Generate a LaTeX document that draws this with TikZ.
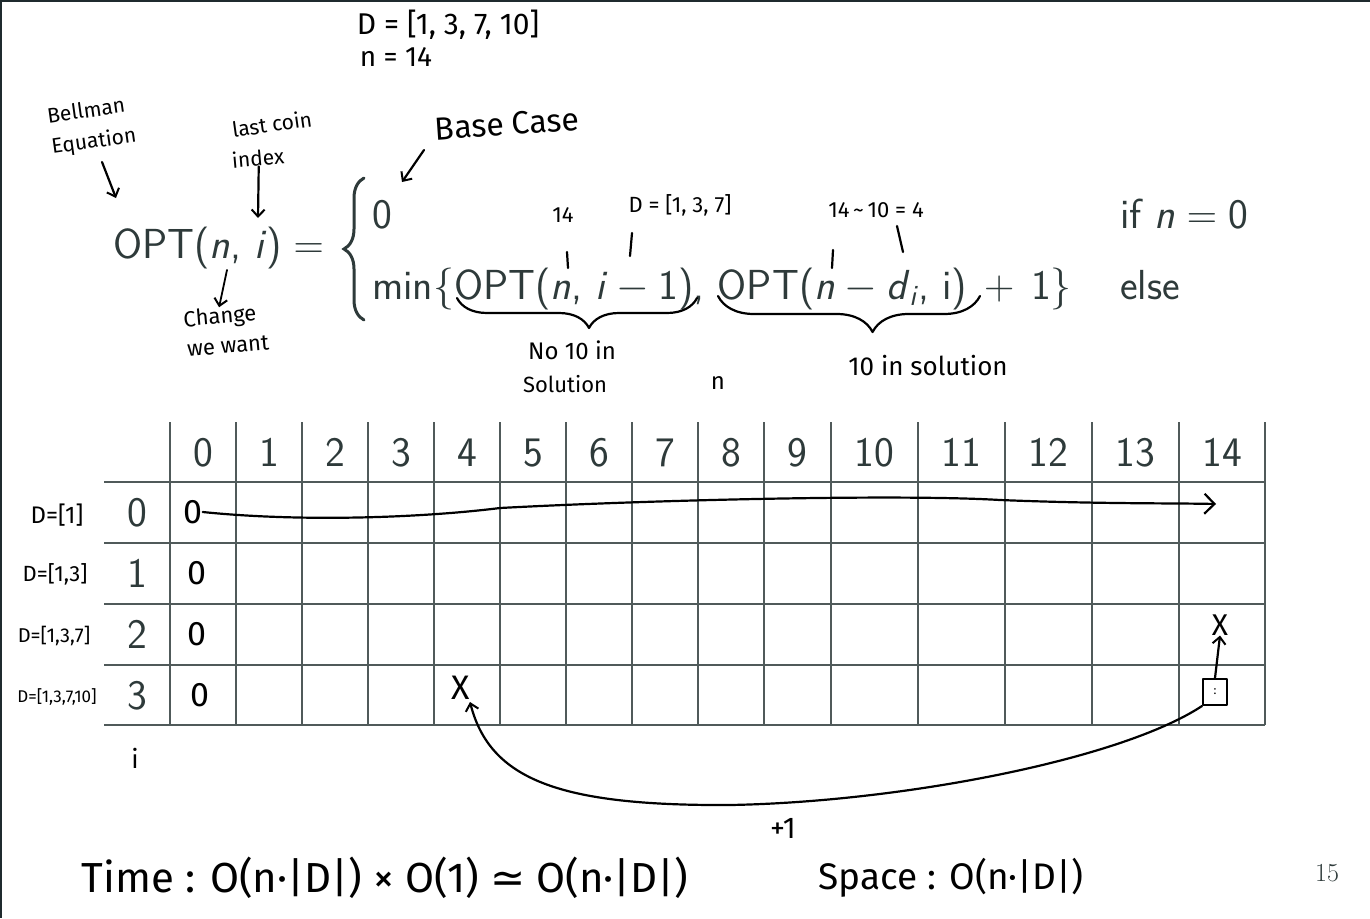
\documentclass[tikz,border=0pt]{standalone}
\usepackage{fix-cm}
\usepackage{fontspec}
\newfontfamily\hand{Fira Sans}
\newfontfamily\dv{DejaVu Sans}
\usetikzlibrary{arrows.meta,decorations.pathreplacing}
\definecolor{slide}{HTML}{2E3A3A}
\definecolor{gridc}{HTML}{505A5A}
\definecolor{framec}{HTML}{1F2A2E}
\newcommand{\fs}[1]{\fontsize{#1}{#1}\selectfont}
\newcommand{\bop}[1]{\hspace{.22em}$#1$\hspace{.22em}}
\newcommand{\rel}[1]{\hspace{.28em}$#1$\hspace{.28em}}
\begin{document}
\begin{tikzpicture}[x=1pt,y=-1pt,
  slidetxt/.style={text=slide,font=\sffamily\fs{42},inner sep=0pt},
  hw/.style={text=black,font=\hand\fs{#1},inner sep=0pt},
  hw/.default=24,
  ink/.style={draw=black,line width=2.2pt,line cap=round,line join=round},
  barb/.style={-{Straight Barb[length=7pt,width=13pt,line width=2pt]}},
  bigbarb/.style={-{Straight Barb[length=10pt,width=20pt,line width=2.2pt]}},
  gridline/.style={draw=gridc,line width=1.6pt},
  hbrace/.style={ink,decorate,decoration={brace,mirror,amplitude=#1}}
]
\useasboundingbox (0,0) rectangle (1370,918);
\fill[white] (0,0) rectangle (1370,918);
\draw[framec,line width=3pt] (0,918) -- (0,0) -- (1370,0);

% ---------- slide equation ----------
\node[slidetxt,anchor=base west] (lhs) at (113,258) {OPT(\textit{n}, \textit{i})\hspace{.28em}$=$};
\draw[slide,line width=3pt,line cap=round,decorate,decoration={brace,amplitude=20pt,aspect=0.5}] (364,320) -- (364,178);
\node[slidetxt,anchor=base west] (zero) at (372,228) {0};
\node[slidetxt,anchor=base west] (rec) at (372,299) {min\{OPT(\textit{n}, \textit{i}\bop{-}1), OPT(\textit{n}\bop{-}\textit{d}\textsubscript{\textit{i}}, i)\hspace{.4em}$+$\hspace{.4em}1\}};
\node[slidetxt,anchor=base west] (cond1) at (1120,228) {if \textit{n}\rel{=}0};
\node[slidetxt,anchor=base west] (cond2) at (1120,299) {else};

% ---------- table ----------
\foreach \x in {170,236,302,368,434,500,566,632,698,764,831,918,1005,1092,1179,1265}
  \draw[gridline] (\x,422) -- (\x,725);
\foreach \y in {482,543,604,665,725}
  \draw[gridline] (104,\y) -- (1265,\y);
\foreach \cx/\lab in {203/0,269/1,335/2,401/3,467/4,533/5,599/6,665/7,731/8,797.5/9,874.5/10,961.5/11,1048.5/12,1135.5/13,1222/14}
  \node[slidetxt,anchor=base] (col\lab) at (\cx,466) {\lab};
\foreach \cy/\lab in {512/0,573/1,634/2,695/3}
  \node[slidetxt,anchor=base] (row\lab) at (137,\cy+14) {\lab};
\node[text=slide,font=\rmfamily\fs{26},inner sep=0pt] (page) at (1327,873) {15};

% ---------- handwriting: top ----------
\node[hw=30] (Dset) at (448,25) {D = [1, 3, 7, 10]};
\node[hw=28] (nval) at (396,57) {n = 14};
\node[hw=21,rotate=8] (bell1) at (86,110) {Bellman};
\node[hw=21,rotate=8] (bell2) at (94,142) {Equation};
\coordinate (bellS) at (102,162);
\coordinate (bellTip) at (116,198);
\draw[ink,barb] (bellS) -- (bellTip);
\node[hw=21,rotate=8] (last1) at (272,124) {last coin};
\node[hw=21,rotate=5] (last2) at (258,158) {index};
\coordinate (lastTip) at (258,218);
\draw[ink,barb] (last2.south) -- (lastTip);
\node[hw=32,rotate=4] (base) at (507,124) {Base Case};
\coordinate (baseS) at (424,150);
\coordinate (baseTip) at (402,182);
\draw[ink,barb] (baseS) -- (baseTip);
\coordinate (chgTop) at (227,270);
\node[hw=22,rotate=5] (chg1) at (220,318) {Change};
\node[hw=22,rotate=5] (chg2) at (228,346) {we want};
\draw[ink,barb,line width=1.8pt] (chgTop) -- (chg1.north);

% small annotations above second line
\node[hw=22] (a14) at (563,215) {14};
\draw[ink] (567,252) -- (568,268);
\node[hw=22] (aD) at (680,205) {D = [1, 3, 7]};
\draw[ink] (632,233) -- (630,256);
\node[hw=22] (aDiff) at (876,210) {14\,\textasciitilde\,10 = 4};
\draw[ink] (833,250) -- (832,268);
\draw[ink] (897,226) -- (903,252);

% braces under terms
\draw[hbrace=30pt,decoration={aspect=0.55}] (457,298) -- (697,298);
\draw[hbrace=36pt,decoration={aspect=0.59}] (718,296) -- (980,296);
\node[hw=24] (no1) at (572,350) {No 10 in};
\node[hw=22] (no2) at (565,384) {Solution};
\node[hw=24] (nlab) at (718,383) {n};
\node[hw=26] (yes) at (928,366) {10 in solution};

% ---------- handwriting: table ----------
\node[hw=24] (D0) at (57,515) {D=[1]};
\node[hw=22] (D1) at (55,574) {D=[1,3]};
\node[hw=20] (D2) at (54,636) {D=[1,3,7]};
\node[hw=17] (D3) at (57,697) {D=[1,3,7,10]};
\node[hw=26] (ilab) at (135,758) {i};
\node[hw=34] (z0) at (193,512) {0};
\node[hw=34] (z1) at (197,573) {0};
\node[hw=34] (z2) at (197,634) {0};
\node[hw=34] (z3) at (200,695) {0};
\coordinate (rowEnd) at (1216,504);
\draw[ink,bigbarb] (z0.east) .. controls (300,522) and (420,518) .. (500,508)
  .. controls (650,500) and (900,494) .. (1000,500) .. controls (1100,504) and (1170,503) .. (rowEnd);
\node[hw=34] (X1) at (461,688) {X};
\node[hw=30] (X2) at (1220,625) {X};
\node[ink,line width=2pt,minimum width=24pt,minimum height=26pt,inner sep=0pt,font=\hand\fs{12}] (box) at (1215,692) {:};
\draw[ink,barb] (box.north) -- (X2.south);
\coordinate (xTip) at (470,702);
\draw[ink,barb] (box.south west) .. controls (1120,760) and (900,802) .. (730,805)
  .. controls (560,806) and (490,780) .. (xTip);
\node[hw=30] (plus) at (783,828) {+1};

% ---------- complexity ----------
\node[hw=42] (time) at (385,878) {Time : O(n·|D|) × O(1) {\dv ≃} O(n·|D|)};
\node[hw=37] (space) at (951,878) {Space : O(n·|D|)};
\end{tikzpicture}
\end{document}
